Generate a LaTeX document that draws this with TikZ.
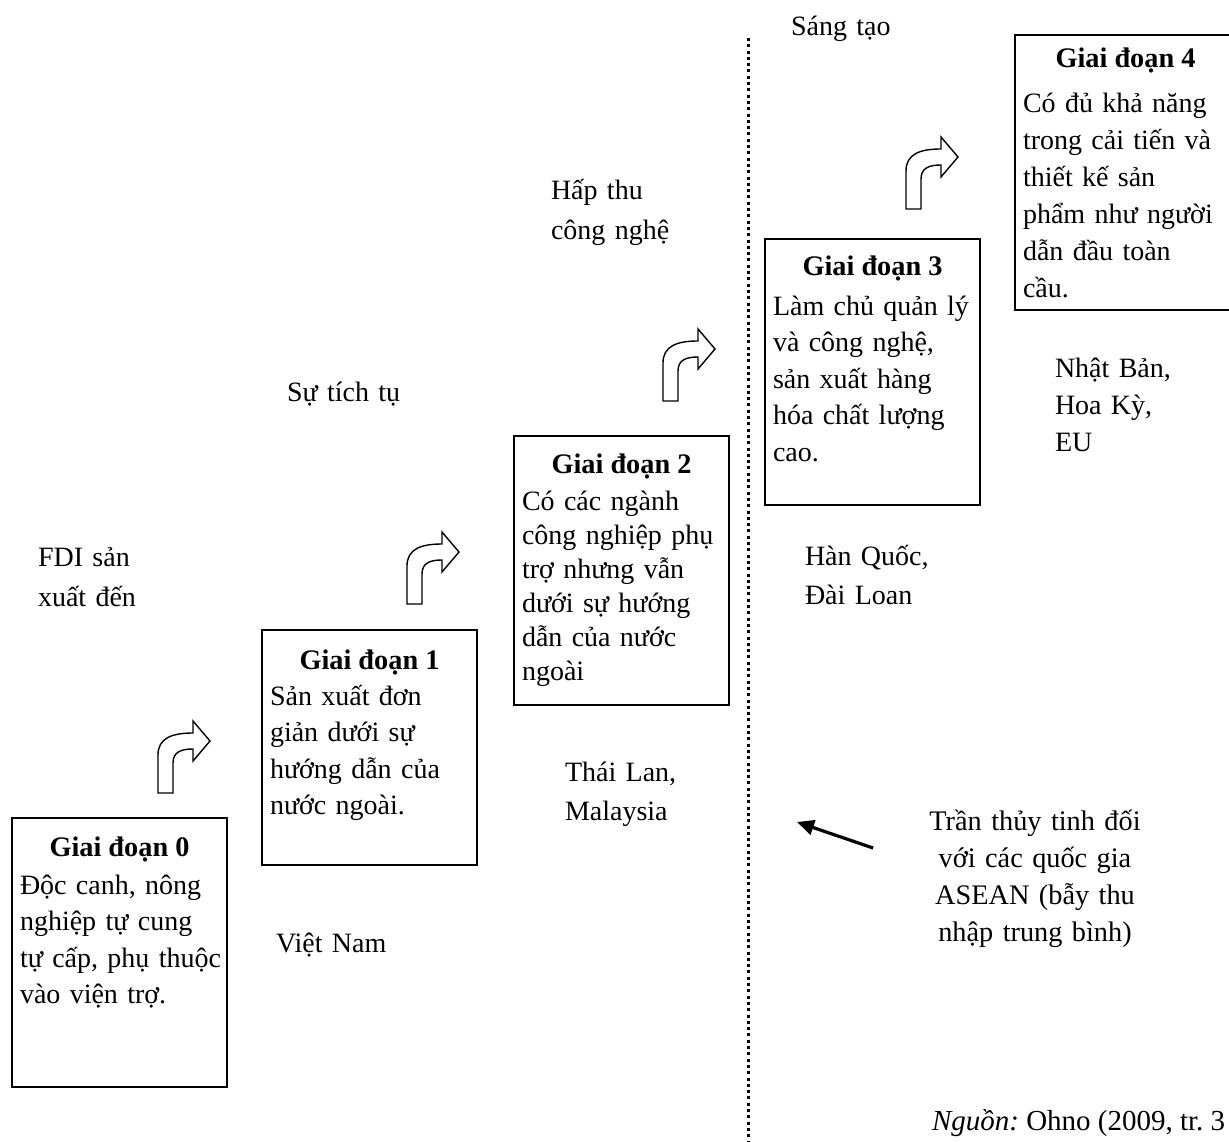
\documentclass[tikz,border=0pt]{standalone}
\usepackage{fontspec}
\setmainfont{Liberation Serif}
\usetikzlibrary{arrows.meta,calc}
\begin{document}
\frenchspacing
\begin{tikzpicture}[x=1pt,y=-1pt,
  every node/.style={inner sep=0pt,outer sep=0pt,font=\fontsize{28}{36.5}\selectfont},
  stagebox/.style={draw,line width=1.7pt,anchor=north west,minimum width=215pt,minimum height=#1},
  stagehead/.style={anchor=base,font=\fontsize{28.3}{36.5}\selectfont\bfseries},
  stagebody/.style={anchor=base west,text width=210pt,font=\fontsize{28}{#1}\selectfont},
  freetext/.style={anchor=base west,text width=300pt,font=\fontsize{28}{#1}\selectfont},
  arrowline/.style={draw,line width=1.4pt,line join=miter,fill=white},
  dotline/.style={line width=3pt,dash pattern=on 3pt off 3.3pt},
  ptr/.style={line width=3.2pt,-{Triangle[length=17pt,width=15pt]}},
  bentarrow/.pic={\path[arrowline] (0,0) -- (0,-38) .. controls (0,-55) and (14,-60) .. (35,-60)
      -- (35,-72) -- (52,-52) -- (35,-32) -- (35,-44) .. controls (23,-44) and (15,-41) .. (15,-30)
      -- (15,0) -- cycle;}
]
\useasboundingbox (0,0) rectangle (1229,1142);

% dotted separator
\coordinate (dtop) at (748,38);
\coordinate (dbot) at (748,1142);
\draw[dotline] (dtop) -- (dbot);

% stage boxes
\node[stagebox=269pt] (b0) at (12,818) {};
\node[stagehead] (h0) at ($(b0.north)+(0,38)$) {Giai đoạn 0};
\node[stagebody=36.5pt] (t0) at ($(b0.north west)+(8,76)$) {Độc canh, nông\\nghiệp tự cung\\tự cấp, phụ thuộc\\vào viện trợ.};

\node[stagebox=235pt] (b1) at (262,630) {};
\node[stagehead] (h1) at ($(b1.north)+(0,39)$) {Giai đoạn 1};
\node[stagebody=36.5pt] (t1) at ($(b1.north west)+(8,75)$) {Sản xuất đơn\\giản dưới sự\\hướng dẫn của\\nước ngoài.};

\node[stagebox=269pt] (b2) at (514,436) {};
\node[stagehead] (h2) at ($(b2.north)+(0,37)$) {Giai đoạn 2};
\node[stagebody=34pt] (t2) at ($(b2.north west)+(8,74)$) {Có các ngành\\công nghiệp phụ\\trợ nhưng vẫn\\dưới sự hướng\\dẫn của nước\\ngoài};

\node[stagebox=266pt] (b3) at (765,239) {};
\node[stagehead] (h3) at ($(b3.north)+(0,37)$) {Giai đoạn 3};
\node[stagebody=36.5pt] (t3) at ($(b3.north west)+(8,76)$) {Làm chủ quản lý\\và công nghệ,\\sản xuất hàng\\hóa chất lượng\\cao.};

\node[stagebox=275pt,minimum width=221pt] (b4) at (1015,35) {};
\node[stagehead] (h4) at ($(b4.north)+(0,33)$) {Giai đoạn 4};
\node[stagebody=37pt] (t4) at ($(b4.north west)+(8,78)$) {Có đủ khả năng\\trong cải tiến và\\thiết kế sản\\phẩm như người\\dẫn đầu toàn\\cầu.};

% bent arrows
\pic (arrA) at (158,793) {bentarrow};
\pic (arrB) at (407,604) {bentarrow};
\pic (arrC) at (663,401) {bentarrow};
\pic (arrD) at (906,209) {bentarrow};

% free labels
\node[freetext=40pt] (fdi) at (38,566) {FDI sản\\xuất đến};
\node[freetext=39pt] (tichtu) at (287,401) {Sự tích tụ};
\node[freetext=40pt] (hapthu) at (551,200) {Hấp thu\\công nghệ};
\node[freetext=39pt] (sangtao) at (791,36) {Sáng tạo};

\node[freetext=39pt] (vn) at (276,952) {Việt Nam};
\node[freetext=39pt] (thai) at (565,781) {Thái Lan,\\Malaysia};
\node[freetext=39pt] (han) at (805,565) {Hàn Quốc,\\Đài Loan};
\node[freetext=37pt] (nhat) at (1055,377) {Nhật Bản,\\Hoa Kỳ,\\EU};

\node[anchor=base,text width=260pt,font=\fontsize{28.3}{37}\selectfont] (tran) at (1035,830) {\centering Trần thủy tinh đối\\với các quốc gia\\ASEAN (bẫy thu\\nhập trung bình)\par};

\coordinate (ceilTail) at (873,848);
\coordinate (ceilTip) at (797,822);
\draw[ptr] (ceilTail) -- (ceilTip);

\node[anchor=base west,font=\fontsize{29}{36}\selectfont] (src) at (932,1130) {\textit{Nguồn:} Ohno (2009, tr. 3};
\end{tikzpicture}
\end{document}
